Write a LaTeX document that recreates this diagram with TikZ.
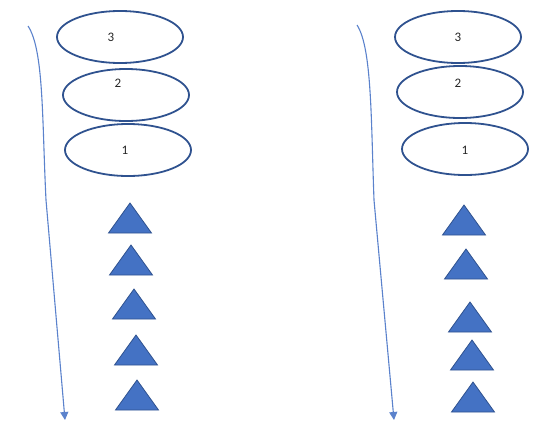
\documentclass[tikz,border=0pt]{standalone}
\usepackage{fontspec}
\setmainfont{Carlito}
\usetikzlibrary{shapes.geometric,arrows.meta}
\definecolor{edgeblue}{HTML}{2F528F}
\definecolor{fillblue}{HTML}{4472C4}
\definecolor{arrowblue}{HTML}{5B82CC}
\tikzset{
  oval/.style={ellipse,draw=edgeblue,line width=1.8pt,minimum width=126pt,minimum height=52pt,inner sep=0pt},
  num/.style={font=\fontsize{13}{15}\selectfont,text=black!85,inner sep=0pt},
  tri/.style={fill=fillblue,draw=edgeblue,line width=0.8pt,line join=miter},
  flow/.style={draw=arrowblue,line width=1.1pt,-{Triangle[length=8pt,width=8pt]}}
}
\newcommand{\tria}[2]{\path[tri] (#1-21.5,#2+15) -- (#1,#2-15) -- (#1+21.5,#2+15) -- cycle;}
\begin{document}
\begin{tikzpicture}[x=1pt,y=-1pt]
\useasboundingbox (0,0) rectangle (556,423);
% left column
\node[oval] (a3) at (120,37) {};
\node[oval] (a2) at (126,95) {};
\node[oval] (a1) at (128,150) {};
\node[num] (ta3) at (111,37) {3};
\node[num] (ta2) at (118,83) {2};
\node[num] (ta1) at (125,150) {1};
\tria{130}{218}
\tria{131}{260}
\tria{134}{304}
\tria{136}{350}
\tria{137}{395}
\coordinate (as) at (28,26);
\coordinate (ae) at (65,420);
\draw[flow] (as) .. controls (44,50) and (42,120) .. (46,200) -- (ae);
% right column
\node[oval] (b3) at (458,37) {};
\node[oval] (b2) at (460,92) {};
\node[oval] (b1) at (465,149) {};
\node[num] (tb3) at (458,37) {3};
\node[num] (tb2) at (458,83) {2};
\node[num] (tb1) at (465,150) {1};
\tria{464}{220}
\tria{466}{264}
\tria{470}{317}
\tria{472}{355}
\tria{473}{397}
\coordinate (bs) at (357,25);
\coordinate (be) at (394,420);
\draw[flow] (bs) .. controls (372,48) and (371,120) .. (374,200) -- (be);
\end{tikzpicture}
\end{document}
